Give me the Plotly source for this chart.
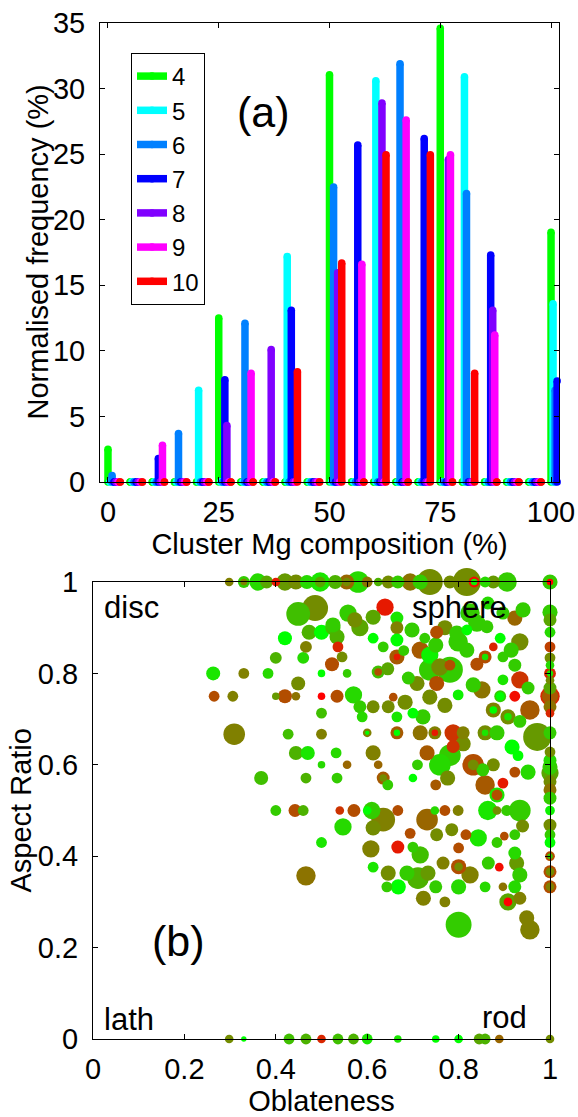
import plotly.graph_objects as go

# ---------------- Panel (a) data ----------------
bins = [0, 5, 10, 15, 20, 25, 30, 35, 40, 45, 50, 55, 60, 65, 70, 75, 80, 85, 90, 95, 100]
cluster_sizes = ["4", "5", "6", "7", "8", "9", "10"]
series_colors = ["#00FF00", "#00FFFF", "#0080FF", "#0000FF", "#8000FF", "#FF00FF", "#FF0000"]

freq_4 = [2.5, 0, 0, 0, 0, 12.5, 0, 0, 0, 0, 31.05, 0, 0, 0, 0, 34.6, 0, 0, 0, 0, 19.05]
freq_5 = [0, 0, 0, 0, 7.0, 0, 0, 0, 17.2, 0, 0, 0, 30.6, 0, 0, 0, 30.9, 0, 0, 0, 13.6]
freq_6 = [0.5, 0, 0, 3.7, 0, 0, 12.1, 0, 0, 0, 22.5, 0, 0, 31.9, 0, 0, 22.0, 0, 0, 0, 7.0]
freq_7 = [0, 0, 1.8, 0, 0, 7.8, 0, 0, 13.1, 0, 0, 25.7, 0, 0, 26.2, 0, 0, 17.3, 0, 0, 7.7]
freq_8 = [0, 0, 0, 0, 0, 4.3, 0, 10.1, 0, 0, 15.95, 0, 28.9, 0, 0, 24.6, 0, 13.1, 0, 0, 2.9]
freq_9 = [0, 0, 2.8, 0, 0, 0, 8.3, 0, 0, 0, 0, 16.6, 0, 27.6, 0, 24.95, 0, 11.2, 0, 0, 0]
freq_10 = [0, 0, 0, 0, 0, 0, 0, 0, 8.4, 0, 16.7, 0, 24.95, 0, 24.95, 0, 8.3, 0, 0, 0, 0]
all_freq = [freq_4, freq_5, freq_6, freq_7, freq_8, freq_9, freq_10]

x_ticks_a = [0, 25, 50, 75, 100]

# ---------------- Panel (b) data: (oblateness, aspect ratio, size px, Mg fraction) ----------------
top_row = [
    (0.298, 1, 8, 0.5), (0.33, 1, 11, 0.2), (0.33, 1, 6, 0.5), (0.361, 1, 16, 0.15),
    (0.38, 1, 12, 0.35), (0.40, 1, 8, 0.9), (0.42, 1, 16, 0.4), (0.444, 1, 14, 0.45),
    (0.468, 1, 13, 0.15), (0.497, 1, 18, 0.1), (0.497, 1, 10, 0.35), (0.53, 1, 13, 0.3),
    (0.555, 1, 14, 0.6), (0.555, 1, 8, 0.45), (0.58, 1, 20, 0.15), (0.60, 1, 10, 0.55),
    (0.624, 1, 8, 0.3), (0.646, 1, 12, 0.45), (0.667, 1, 12, 0.2), (0.694, 1, 16, 0.55),
    (0.716, 1, 14, 0.2), (0.737, 1, 24, 0.45), (0.781, 1, 12, 0.45), (0.818, 1, 26, 0.45),
    (0.834, 1, 10, 0.95), (0.834, 1, 6, 0.05), (0.858, 1, 10, 0.15), (0.876, 1, 12, 0.4),
    (0.906, 1, 18, 0.2), (1.0, 1, 14, 0.2), (1.0, 1, 6, 1.0),
]
right_col = [
    (1, 0.934, 14, 0.2), (1, 0.917, 12, 0.35), (1, 0.89, 10, 0.15), (1, 0.858, 10, 0.75),
    (1, 0.834, 10, 0.45), (1, 0.818, 8, 0.15), (1, 0.80, 11, 0.85), (1, 0.80, 6, 0.1),
    (1, 0.785, 8, 0.45), (1, 0.768, 12, 0.35), (1, 0.75, 18, 0.85), (1, 0.75, 15, 0.65),
    (1, 0.727, 12, 0.55), (1, 0.713, 8, 0.85), (1, 0.67, 12, 0.2), (1, 0.628, 10, 0.45),
    (1, 0.61, 12, 0.15), (1, 0.595, 14, 0.2), (1, 0.582, 16, 0.35), (1, 0.563, 12, 0.45),
    (1, 0.545, 12, 0.55), (1, 0.527, 12, 0.2), (1, 0.5, 9, 0.05), (1, 0.468, 12, 0.45),
    (1, 0.447, 10, 0.2), (1, 0.43, 10, 0.0), (1, 0.40, 9, 0.7), (1, 0.40, 5, 0.2),
    (1, 0.366, 12, 0.7), (1, 0.366, 8, 0.45), (1, 0.333, 12, 0.7), (1, 0.333, 8, 0.5),
]
bottom_row = [
    (0.298, 0, 8, 0.45), (0.33, 0, 5, 0.0), (0.429, 0, 10, 0.25), (0.466, 0, 10, 0.3),
    (0.50, 0, 8, 0.85), (0.536, 0, 10, 0.25), (0.57, 0, 10, 0.3), (0.60, 0, 10, 0.1),
    (0.667, 0, 7, 0.1), (0.75, 0, 7, 0.0), (0.80, 0, 8, 0.0), (0.845, 0, 10, 0.35),
    (0.858, 0, 10, 0.3), (0.889, 0, 8, 0.6), (1.0, 0, 8, 0.45),
]
left_interior = [
    (0.263, 0.80, 13, 0.1), (0.33, 0.80, 10, 0.5), (0.383, 0.80, 10, 0.15), (0.265, 0.75, 10, 0.7),
    (0.306, 0.75, 10, 0.5), (0.309, 0.667, 20, 0.5), (0.40, 0.75, 7, 0.4), (0.42, 0.75, 13, 0.7),
    (0.444, 0.75, 8, 0.55), (0.50, 0.75, 7, 1.0), (0.534, 0.75, 12, 0.7), (0.449, 0.778, 13, 0.45),
    (0.50, 0.80, 7, 0.0), (0.523, 0.82, 13, 0.7), (0.536, 0.858, 10, 0.85), (0.40, 0.834, 11, 0.3),
    (0.46, 0.834, 11, 0.15), (0.466, 0.858, 11, 0.5), (0.42, 0.877, 13, 0.0), (0.473, 0.89, 14, 0.3),
    (0.50, 0.89, 14, 0.0), (0.449, 0.93, 22, 0.25), (0.486, 0.943, 24, 0.45), (0.525, 0.90, 14, 0.25),
    (0.534, 0.88, 14, 0.3), (0.50, 0.713, 10, 0.25), (0.427, 0.667, 10, 0.25), (0.50, 0.667, 10, 0.5),
    (0.444, 0.626, 13, 0.3), (0.47, 0.626, 13, 0.1), (0.532, 0.626, 10, 0.15), (0.50, 0.60, 7, 0.15),
    (0.368, 0.571, 13, 0.25), (0.466, 0.571, 10, 0.3), (0.534, 0.571, 10, 0.2), (0.40, 0.50, 10, 0.2),
    (0.442, 0.50, 12, 0.7), (0.46, 0.50, 10, 0.3), (0.54, 0.50, 8, 0.8), (0.547, 0.464, 16, 0.15),
    (0.50, 0.43, 10, 0.1), (0.466, 0.357, 18, 0.55),
]
upper_cloud = [
    (0.639, 0.945, 16, 0.9), (0.558, 0.932, 16, 0.2), (0.573, 0.917, 14, 0.45), (0.613, 0.923, 14, 0.35),
    (0.665, 0.921, 12, 0.1), (0.525, 0.906, 14, 0.2), (0.584, 0.90, 16, 0.35), (0.613, 0.877, 10, 0.0),
    (0.635, 0.858, 10, 0.2), (0.665, 0.90, 12, 0.5), (0.665, 0.873, 12, 0.0), (0.698, 0.895, 14, 0.2),
    (0.726, 0.877, 10, 0.2), (0.752, 0.89, 12, 0.7), (0.77, 0.90, 14, 0.45), (0.796, 0.888, 14, 0.2),
    (0.818, 0.895, 10, 0.0), (0.84, 0.91, 16, 0.2), (0.862, 0.902, 12, 0.2), (0.891, 0.877, 10, 0.0),
    (0.923, 0.921, 14, 0.6), (0.941, 0.939, 14, 0.2), (0.897, 0.932, 12, 0.2), (0.825, 0.932, 18, 0.2),
    (0.864, 0.954, 12, 0.15), (0.545, 0.836, 10, 0.45), (0.556, 0.80, 8, 0.2), (0.624, 0.803, 12, 0.25),
    (0.624, 0.803, 7, 0.7), (0.645, 0.81, 12, 0.35), (0.665, 0.836, 14, 0.65), (0.665, 0.836, 6, 0.9),
    (0.68, 0.85, 10, 0.2), (0.716, 0.851, 16, 0.65), (0.737, 0.84, 16, 0.05), (0.75, 0.862, 14, 0.2),
    (0.759, 0.814, 16, 0.45), (0.781, 0.818, 10, 0.7), (0.781, 0.808, 24, 0.2), (0.799, 0.869, 18, 0.2),
    (0.818, 0.851, 14, 0.2), (0.84, 0.82, 12, 0.7), (0.858, 0.836, 12, 0.7), (0.858, 0.836, 6, 0.1),
    (0.876, 0.858, 8, 0.85), (0.897, 0.836, 10, 0.2), (0.915, 0.851, 14, 0.2), (0.934, 0.869, 16, 0.45),
    (0.923, 0.818, 12, 0.2), (0.897, 0.786, 10, 0.1), (0.934, 0.786, 16, 0.8), (0.952, 0.768, 12, 0.2),
    (0.923, 0.75, 10, 0.95), (0.956, 0.72, 18, 0.65), (0.972, 0.661, 26, 0.4), (0.934, 0.695, 12, 0.2),
]
middle_cloud = [
    (0.917, 0.639, 14, 0.0), (0.93, 0.62, 10, 0.0), (0.952, 0.584, 14, 0.15), (0.923, 0.584, 10, 0.7),
    (0.897, 0.56, 10, 0.9), (0.884, 0.534, 14, 0.1), (0.884, 0.534, 10, 0.7), (0.876, 0.6, 12, 0.45),
    (0.858, 0.556, 18, 0.65), (0.853, 0.589, 12, 0.2), (0.832, 0.60, 20, 0.7), (0.832, 0.60, 10, 0.45),
    (0.81, 0.646, 14, 0.45), (0.781, 0.621, 20, 0.2), (0.759, 0.60, 20, 0.15), (0.731, 0.626, 14, 0.65),
    (0.716, 0.67, 14, 0.55), (0.748, 0.67, 12, 0.5), (0.748, 0.67, 6, 0.9), (0.788, 0.67, 16, 0.8),
    (0.788, 0.64, 12, 0.8), (0.81, 0.67, 12, 0.5), (0.858, 0.67, 14, 0.45), (0.858, 0.67, 6, 0.1),
    (0.884, 0.67, 14, 0.2), (0.665, 0.67, 12, 0.65), (0.665, 0.67, 6, 0.0), (0.60, 0.67, 8, 0.5),
    (0.60, 0.67, 4, 0.0), (0.613, 0.626, 14, 0.5), (0.556, 0.60, 8, 0.6), (0.624, 0.60, 8, 0.6),
    (0.635, 0.571, 12, 0.65), (0.635, 0.571, 7, 0.45), (0.645, 0.556, 10, 0.2), (0.70, 0.571, 8, 0.0),
    (0.71, 0.60, 10, 0.2), (0.75, 0.556, 10, 0.65), (0.776, 0.571, 14, 0.45),
    (0.57, 0.753, 16, 0.15), (0.584, 0.727, 12, 0.2), (0.589, 0.705, 10, 0.15), (0.613, 0.727, 12, 0.45),
    (0.646, 0.727, 12, 0.45), (0.665, 0.705, 10, 0.1), (0.657, 0.748, 8, 0.7), (0.683, 0.737, 14, 0.45),
    (0.70, 0.713, 10, 0.0), (0.722, 0.705, 14, 0.2), (0.737, 0.748, 14, 0.45), (0.77, 0.73, 14, 0.45),
    (0.799, 0.753, 10, 0.05), (0.752, 0.778, 14, 0.7), (0.709, 0.778, 14, 0.45), (0.69, 0.79, 12, 0.2),
    (0.737, 0.808, 20, 0.2), (0.832, 0.775, 14, 0.2), (0.851, 0.764, 16, 0.55), (0.891, 0.75, 11, 0.2),
    (0.891, 0.75, 8, 0.0), (0.876, 0.72, 14, 0.5), (0.876, 0.72, 7, 0.0), (0.908, 0.705, 14, 0.45),
    (0.908, 0.705, 7, 0.1),
]
lower_cloud = [
    (0.571, 0.50, 12, 0.7), (0.60, 0.50, 8, 0.0), (0.61, 0.50, 16, 0.2), (0.635, 0.48, 22, 0.5),
    (0.613, 0.462, 14, 0.45), (0.667, 0.50, 10, 0.7), (0.694, 0.45, 10, 0.7), (0.731, 0.48, 20, 0.6),
    (0.748, 0.50, 8, 0.15), (0.77, 0.50, 10, 0.7), (0.799, 0.50, 10, 0.5), (0.752, 0.447, 12, 0.45),
    (0.785, 0.458, 12, 0.45), (0.816, 0.447, 10, 0.7), (0.843, 0.44, 16, 0.1), (0.864, 0.50, 18, 0.1),
    (0.884, 0.50, 8, 0.45), (0.905, 0.50, 10, 0.2), (0.934, 0.50, 20, 0.2), (0.94, 0.466, 12, 0.45),
    (0.923, 0.447, 10, 0.2), (0.90, 0.444, 8, 0.7), (0.884, 0.43, 10, 0.2), (0.667, 0.42, 12, 0.9),
    (0.608, 0.416, 16, 0.5), (0.70, 0.42, 10, 0.2), (0.80, 0.418, 10, 0.7), (0.716, 0.403, 16, 0.25),
    (0.766, 0.385, 12, 0.5), (0.80, 0.377, 14, 0.7), (0.80, 0.377, 8, 0.45), (0.825, 0.359, 16, 0.5),
    (0.865, 0.385, 12, 0.2), (0.889, 0.376, 8, 0.95), (0.923, 0.407, 12, 0.15), (0.927, 0.385, 14, 0.4),
    (0.934, 0.359, 14, 0.2), (0.613, 0.376, 10, 0.1), (0.646, 0.363, 14, 0.45), (0.687, 0.363, 14, 0.2),
    (0.711, 0.352, 20, 0.3), (0.733, 0.363, 14, 0.4), (0.643, 0.333, 10, 0.2), (0.668, 0.333, 14, 0.0),
    (0.75, 0.333, 12, 0.2), (0.80, 0.333, 14, 0.15), (0.858, 0.333, 10, 0.15), (0.897, 0.333, 8, 0.55),
    (0.923, 0.333, 12, 0.15), (0.723, 0.308, 14, 0.5), (0.77, 0.30, 10, 0.5), (0.908, 0.30, 16, 0.35),
    (0.908, 0.30, 8, 1.0), (0.934, 0.308, 12, 0.5), (0.80, 0.25, 24, 0.2), (0.949, 0.265, 14, 0.5),
    (0.956, 0.239, 18, 0.5),
]
point_groups = [top_row, right_col, bottom_row, left_interior, upper_cloud, middle_cloud, lower_cloud]

FONT = "Liberation Sans, Arial, Helvetica, sans-serif"
fig = go.Figure()

# ---- Panel (a): thick rounded bars per cluster size ----
X_MIN, X_MAX = -1.8, 101.8
OFFSET = 0.46
for i, (name, col, vals) in enumerate(zip(cluster_sizes, series_colors, all_freq)):
    xs, ys = [], []
    for b, v in zip(bins, vals):
        xp = b + i * OFFSET
        if xp > X_MAX:
            continue
        xs += [xp, xp, None]
        ys += [0, v, None]
    fig.add_trace(go.Scatter(
        x=xs, y=ys, mode="lines+markers", name=name,
        line=dict(color=col, width=7.5),
        marker=dict(color=col, size=7.5, line=dict(width=0)),
        cliponaxis=False, xaxis="x", yaxis="y",
    ))

# ---- Panel (b): bubbles ----
pts = [p for g in point_groups for p in g]
pts.sort(key=lambda p: -p[2])
def mg_color(f):
    return "rgb(%d,%d,0)" % (round(255 * f), round(255 * (1 - f)))
fig.add_trace(go.Scatter(
    x=[p[0] for p in pts], y=[p[1] for p in pts], mode="markers",
    marker=dict(size=[p[2] * 1.08 for p in pts], color=[mg_color(p[3]) for p in pts],
                line=dict(width=0), opacity=1),
    showlegend=False, cliponaxis=False, xaxis="x2", yaxis="y2",
))

W, H = 578, 1117
axis_common = dict(showline=True, linecolor="black", linewidth=1, mirror="ticks",
                   ticks="inside", ticklen=5, tickcolor="black", showgrid=False,
                   zeroline=False, automargin=False,
                   tickfont=dict(size=29, color="black", family=FONT))

YA_DOM = [1 - 482 / H, 1 - 23 / H]
YB_DOM = [1 - 1039 / H, 1 - 582 / H]

fig.update_layout(
    width=W, height=H, autosize=False,
    margin=dict(l=0, r=0, t=0, b=0, autoexpand=False),
    paper_bgcolor="white", plot_bgcolor="white",
    font=dict(family=FONT, color="black"),
    showlegend=True,
    legend=dict(x=131 / W, y=1 - 53 / H, xanchor="left", yanchor="top",
                bordercolor="black", borderwidth=1, bgcolor="white",
                font=dict(size=24, family=FONT, color="black"),
                tracegroupgap=0, itemwidth=30),
    xaxis=dict(domain=[100 / W, 559 / W], range=[X_MIN, X_MAX], anchor="y",
               tickvals=x_ticks_a, ticklabelstandoff=4,
               title=dict(text="Cluster Mg composition (%)", font=dict(size=29), standoff=6),
               **axis_common),
    yaxis=dict(domain=YA_DOM, range=[0, 35], anchor="x",
               dtick=5, ticklabelstandoff=8, **axis_common),
    xaxis2=dict(domain=[93 / W, 550 / W], range=[0, 1], anchor="y2", dtick=0.2,
                ticklabelstandoff=4,
                title=dict(text="Oblateness", font=dict(size=29), standoff=6),
                **axis_common),
    yaxis2=dict(domain=YB_DOM, range=[0, 1], anchor="x2", dtick=0.2,
                ticklabelstandoff=8, **axis_common),
)

# y-axis titles (rotated) placed beside the tick labels
for txt, dom, xp in [("Normalised frequency (%)", YA_DOM, 38), ("Aspect Ratio", YB_DOM, 21)]:
    fig.add_annotation(text=txt, x=xp / W, y=(dom[0] + dom[1]) / 2, xref="paper", yref="paper",
                       xanchor="center", yanchor="middle", textangle=-90, showarrow=False,
                       font=dict(size=29, family=FONT, color="black"))

annots = [
    dict(text="(a)", x=35, y=28.2, xref="x", yref="y", xanchor="center", yanchor="middle", size=43),
    dict(text="disc", x=0.02, y=0.945, xref="x2", yref="y2", xanchor="left", yanchor="middle", size=31),
    dict(text="sphere", x=0.803, y=0.945, xref="x2", yref="y2", xanchor="center", yanchor="middle", size=31),
    dict(text="lath", x=0.02, y=0.042, xref="x2", yref="y2", xanchor="left", yanchor="middle", size=31),
    dict(text="rod", x=0.90, y=0.046, xref="x2", yref="y2", xanchor="center", yanchor="middle", size=31),
    dict(text="(b)", x=0.188, y=0.214, xref="x2", yref="y2", xanchor="center", yanchor="middle", size=43),
]
for a in annots:
    fig.add_annotation(text=a["text"], x=a["x"], y=a["y"], xref=a["xref"], yref=a["yref"],
                       xanchor=a["xanchor"], yanchor=a["yanchor"], showarrow=False,
                       font=dict(size=a["size"], family=FONT, color="black"))

fig.write_html("out.html")
